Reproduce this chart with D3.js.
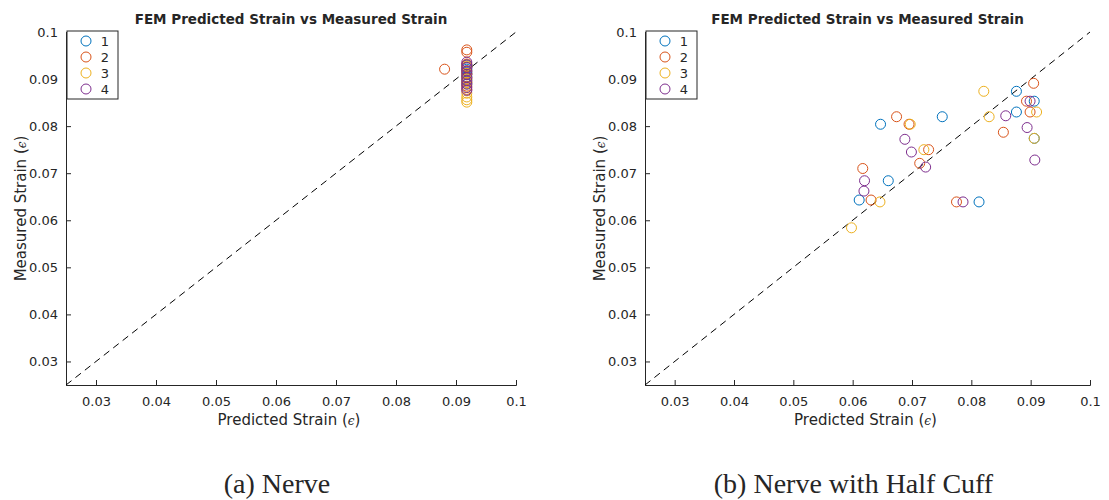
<!DOCTYPE html>
<html>
<head>
<meta charset="utf-8">
<script src="https://cdn.jsdelivr.net/npm/d3@7"></script>
<style>
  body { margin: 0; background: #fff; }
  text { font-family: "DejaVu Sans", sans-serif; fill: #262626; }
</style>
</head>
<body>
<div id="chart"></div>
<script>
// series names + matlab default colours
var seriesNames = ["1", "2", "3", "4"];
var seriesColors = ["#0072BD", "#D95319", "#EDB120", "#7E2F8E"];
var tickValues = [0.03, 0.04, 0.05, 0.06, 0.07, 0.08, 0.09, 0.1];
var tickLabels = ["0.03", "0.04", "0.05", "0.06", "0.07", "0.08", "0.09", "0.1"];

// (a) nerve: predicted strain is almost constant
var nerveX1 = [0.0918, 0.0918, 0.0918, 0.0918, 0.0918, 0.0918, 0.0918, 0.0918];
var nerveY1 = [0.0930, 0.0925, 0.0921, 0.0915, 0.0912, 0.0905, 0.0898, 0.0890];
var nerveX2 = [0.0918, 0.0918, 0.0881, 0.0918, 0.0918, 0.0918, 0.0918, 0.0918, 0.0918, 0.0918, 0.0918];
var nerveY2 = [0.0962, 0.0957, 0.0921, 0.0932, 0.0926, 0.0918, 0.0910, 0.0902, 0.0893, 0.0885, 0.0878];
var nerveX3 = [0.0918, 0.0918, 0.0918, 0.0918, 0.0918, 0.0918, 0.0918, 0.0918];
var nerveY3 = [0.0862, 0.0856, 0.0851, 0.0870, 0.0928, 0.0912, 0.0900, 0.0893];
var nerveX4 = [0.0918, 0.0918, 0.0918, 0.0918, 0.0918, 0.0918, 0.0918, 0.0918, 0.0918, 0.0918];
var nerveY4 = [0.0936, 0.0930, 0.0924, 0.0917, 0.0910, 0.0903, 0.0896, 0.0889, 0.0882, 0.0876];

// (b) nerve with half cuff
var cuffX1 = [0.0647, 0.0751, 0.0660, 0.0611, 0.0876, 0.0906, 0.0876, 0.0813, 0.0906];
var cuffY1 = [0.0804, 0.0820, 0.0684, 0.0643, 0.0874, 0.0853, 0.0830, 0.0639, 0.0774];
var cuffX2 = [0.0674, 0.0695, 0.0728, 0.0713, 0.0617, 0.0631, 0.0905, 0.0893, 0.0899, 0.0854, 0.0775];
var cuffY2 = [0.0820, 0.0804, 0.0750, 0.0721, 0.0710, 0.0643, 0.0891, 0.0853, 0.0830, 0.0787, 0.0639];
var cuffX3 = [0.0697, 0.0720, 0.0646, 0.0598, 0.0821, 0.0910, 0.0830, 0.0906];
var cuffY3 = [0.0804, 0.0750, 0.0639, 0.0584, 0.0874, 0.0830, 0.0820, 0.0774];
var cuffX4 = [0.0688, 0.0699, 0.0723, 0.0620, 0.0619, 0.0899, 0.0858, 0.0894, 0.0907, 0.0786];
var cuffY4 = [0.0772, 0.0745, 0.0713, 0.0684, 0.0662, 0.0853, 0.0822, 0.0797, 0.0728, 0.0639];

var domain = [0.025, 0.1];
var width = 1109, height = 500;

var svg = d3.select('#chart').append('svg')
    .attr('width', width).attr('height', height);

function drawPanel(left, right, xs, ys, caption){
    var top = 32, bottom = 385;
    var x = d3.scaleLinear().domain(domain).range([left, right]);
    var y = d3.scaleLinear().domain(domain).range([bottom, top]);
    var g = svg.append('g');

    // axes, ticks pointing inside like matlab
    var xAxis = d3.axisBottom(x).tickValues(tickValues)
        .tickFormat(function(d, i){ return tickLabels[i]; })
        .tickSizeInner(-5).tickSizeOuter(-5).tickPadding(12);
    var yAxis = d3.axisLeft(y).tickValues(tickValues)
        .tickFormat(function(d, i){ return tickLabels[i]; })
        .tickSizeInner(-5).tickSizeOuter(-5).tickPadding(8);

    var gx = g.append('g').attr('transform', `translate(0,${bottom})`).call(xAxis);
    var gy = g.append('g').attr('transform', `translate(${left},0)`).call(yAxis);
    [gx, gy].forEach(function(a){
        a.selectAll('path,line').attr('stroke', '#262626');
        a.selectAll('text').style('font-size', '13px').attr('fill', '#262626')
            .style('font-family', '"DejaVu Sans", sans-serif');
    });

    // y = x reference line
    g.append('line')
        .attr('x1', x(domain[0])).attr('y1', y(domain[0]))
        .attr('x2', x(domain[1])).attr('y2', y(domain[1]))
        .attr('stroke', '#000').attr('stroke-dasharray', '7,5');

    // markers
    xs.forEach(function(xv, s){
        var pts = xv.map(function(d, i){ return [d, ys[s][i]]; });
        g.selectAll(null).data(pts).enter()
            .append('circle')
            .attr('cx', d => x(d[0]))
            .attr('cy', d => y(d[1]))
            .attr('r', 5)
            .attr('fill', 'none')
            .attr('stroke', seriesColors[s])
            .attr('stroke-width', 1);
    });

    var cx = (left + right) / 2;
    g.append('text').attr('x', cx).attr('y', 24)
        .attr('text-anchor', 'middle')
        .style('font-size', '13.5px').style('font-weight', 'bold').attr('fill', '#000')
        .text('FEM Predicted Strain vs Measured Strain');

    var xl = g.append('text').attr('x', cx - 2).attr('y', 425)
        .attr('text-anchor', 'middle').style('font-size', '15px');
    xl.append('tspan').text('Predicted Strain (');
    xl.append('tspan').style('font-style', 'italic').style('font-family', '"DejaVu Serif", serif').style('font-size', '12px').text('ϵ');
    xl.append('tspan').text(')');

    var yl = g.append('text')
        .attr('transform', `translate(${left - 40},${(top + bottom) / 2}) rotate(-90)`)
        .attr('text-anchor', 'middle').style('font-size', '15px');
    yl.append('tspan').text('Measured Strain (');
    yl.append('tspan').style('font-style', 'italic').style('font-family', '"DejaVu Serif", serif').style('font-size', '12px').text('ϵ');
    yl.append('tspan').text(')');

    // legend
    var lg = g.append('g').attr('transform', `translate(${left + 1},31)`);
    lg.append('rect').attr('x', 0).attr('y', 0).attr('width', 51).attr('height', 68)
        .attr('fill', '#fff').attr('stroke', '#262626').attr('stroke-width', 1);
    seriesNames.forEach(function(n, i){
        lg.append('circle').attr('cx', 19).attr('cy', 10 + i * 16).attr('r', 5)
            .attr('fill', 'none').attr('stroke', seriesColors[i]);
        lg.append('text').attr('x', 38).attr('y', 15 + i * 16)
            .attr('text-anchor', 'middle').style('font-size', '13px').attr('fill', '#000').text(n);
    });

    g.append('text').attr('x', cx - 14).attr('y', 493)
        .attr('text-anchor', 'middle')
        .style('font-family', '"Liberation Serif", serif').style('font-size', '28px').attr('fill', '#000')
        .text(caption);
}

drawPanel(66, 516,
    [nerveX1, nerveX2, nerveX3, nerveX4],
    [nerveY1, nerveY2, nerveY3, nerveY4], '(a) Nerve');
drawPanel(645, 1090,
    [cuffX1, cuffX2, cuffX3, cuffX4],
    [cuffY1, cuffY2, cuffY3, cuffY4], '(b) Nerve with Half Cuff');
</script>
</body>
</html>
